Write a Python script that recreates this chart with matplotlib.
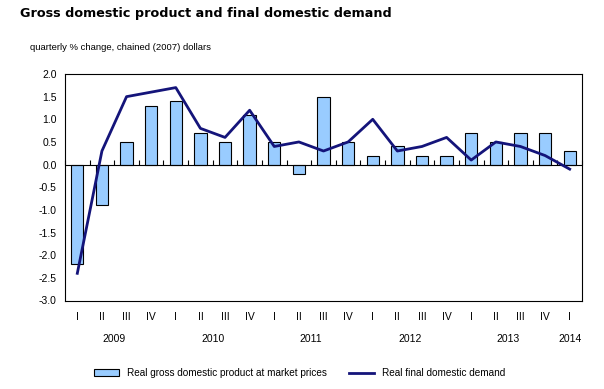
import matplotlib
matplotlib.use("Agg")
import matplotlib.pyplot as plt
import matplotlib.transforms as mtransforms

# quarters 2009 Q1 .. 2014 Q1
quarters = ["I", "II", "III", "IV"] * 5 + ["I"]
years = ["2009", "2010", "2011", "2012", "2013", "2014"]
year_quarter_counts = [4, 4, 4, 4, 4, 1]

gdp = [-2.2, -0.9, 0.5, 1.3, 1.4, 0.7, 0.5, 1.1, 0.5, -0.2, 1.5,
       0.5, 0.2, 0.4, 0.2, 0.2, 0.7, 0.5, 0.7, 0.7, 0.3]
final_demand = [-2.4, 0.3, 1.5, 1.6, 1.7, 0.8, 0.6, 1.2, 0.4, 0.5, 0.3,
                0.5, 1.0, 0.3, 0.4, 0.6, 0.1, 0.5, 0.4, 0.2, -0.1]

plt.rcParams['font.family'] = ['Liberation Sans', 'DejaVu Sans']

fig = plt.figure(figsize=(6.04, 3.89), dpi=100)
ax = fig.add_axes([65 / 604, 1 - 300.5 / 389, 517 / 604, 226.5 / 389])

x = list(range(len(gdp)))
bars = ax.bar(x, gdp, width=0.5, color='#99CCFF', edgecolor='black', linewidth=0.8,
              label='Real gross domestic product at market prices', zorder=2)
line, = ax.plot(x, final_demand, color='#14147A', linewidth=2,
                label='Real final domestic demand', zorder=3)
ax.axhline(0, color='black', linewidth=0.8, zorder=2)

ax.set_xlim(-0.5, len(gdp) - 0.5)
ax.set_ylim(-3.0, 2.0)
ax.set_yticks([v / 2 for v in range(-6, 5)])
ax.set_yticklabels([f"{v / 2:.1f}" for v in range(-6, 5)], fontsize=7.5)
ax.tick_params(axis='y', length=0, pad=6)

ax.set_xticks(x)
ax.set_xticklabels(quarters, fontsize=7.5)
ax.tick_params(axis='x', length=0, pad=8)

for s in ax.spines.values():
    s.set_linewidth(0.8)

# small tick marks on the zero line between quarters, pointing up
zero_frac = (0 - (-3.0)) / (2.0 - (-3.0))
sec = ax.secondary_xaxis(zero_frac)
bounds = [i - 0.5 for i in range(len(gdp) + 1)]
sec.set_xticks(bounds)
sec.set_xticklabels([""] * len(bounds))
sec.xaxis.set_ticks_position('bottom')
sec.tick_params(axis='x', direction='in', length=3.5, width=0.8,
                labelbottom=False, labeltop=False)
sec.spines['bottom'].set_visible(False)
sec.spines['top'].set_visible(False)

# year labels
trans = mtransforms.blended_transform_factory(ax.transData, ax.transAxes)
start = 0
for yr, n in zip(years, year_quarter_counts):
    ax.text(start + (n - 1) / 2, -0.17, yr, transform=trans, ha='center',
            va='center', fontsize=7.5)
    start += n

fig.text(20 / 604, 1 - 13 / 389, "Gross domestic product and final domestic demand",
         fontsize=9.2, fontweight='bold', family='DejaVu Sans', va='center')
fig.text(30 / 604, 1 - 48 / 389, "quarterly % change, chained (2007) dollars",
         fontsize=6.8, va='center')

fig.legend([bars, line], [bars.get_label(), line.get_label()], loc='center',
           bbox_to_anchor=(300 / 604, 1 - 373 / 389), ncol=2,
           frameon=False, fontsize=7.2, handlelength=2.5, columnspacing=2.2)

fig.savefig("out.png", dpi=100)
